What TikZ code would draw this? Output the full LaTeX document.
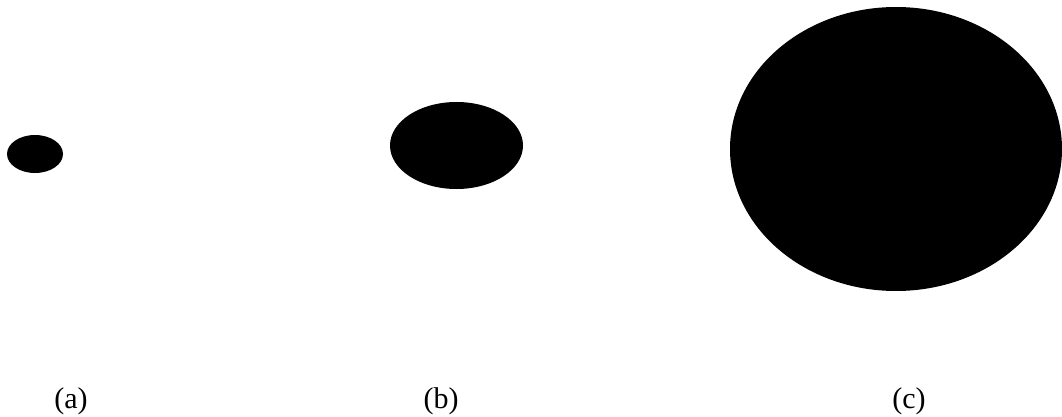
\documentclass[tikz,border=0pt]{standalone}
\usepackage{fontspec}
\setmainfont{Liberation Serif}
\begin{document}
\begin{tikzpicture}[x=1pt,y=-1pt,
  blob/.style={fill=black,draw=none},
  lab/.style={anchor=base,inner sep=0pt,font=\fontsize{30}{36}\selectfont}]
\useasboundingbox (0,0) rectangle (1062,417);
\fill[blob] (35,154) ellipse [x radius=28,y radius=19];
\fill[blob] (456.5,145.5) ellipse [x radius=66.5,y radius=43.5];
\fill[blob] (896,149) ellipse [x radius=166,y radius=142];
\node[lab] (la) at (71,408) {(a)};
\node[lab] (lb) at (441,408) {(b)};
\node[lab] (lc) at (909,408) {(c)};
\end{tikzpicture}
\end{document}
